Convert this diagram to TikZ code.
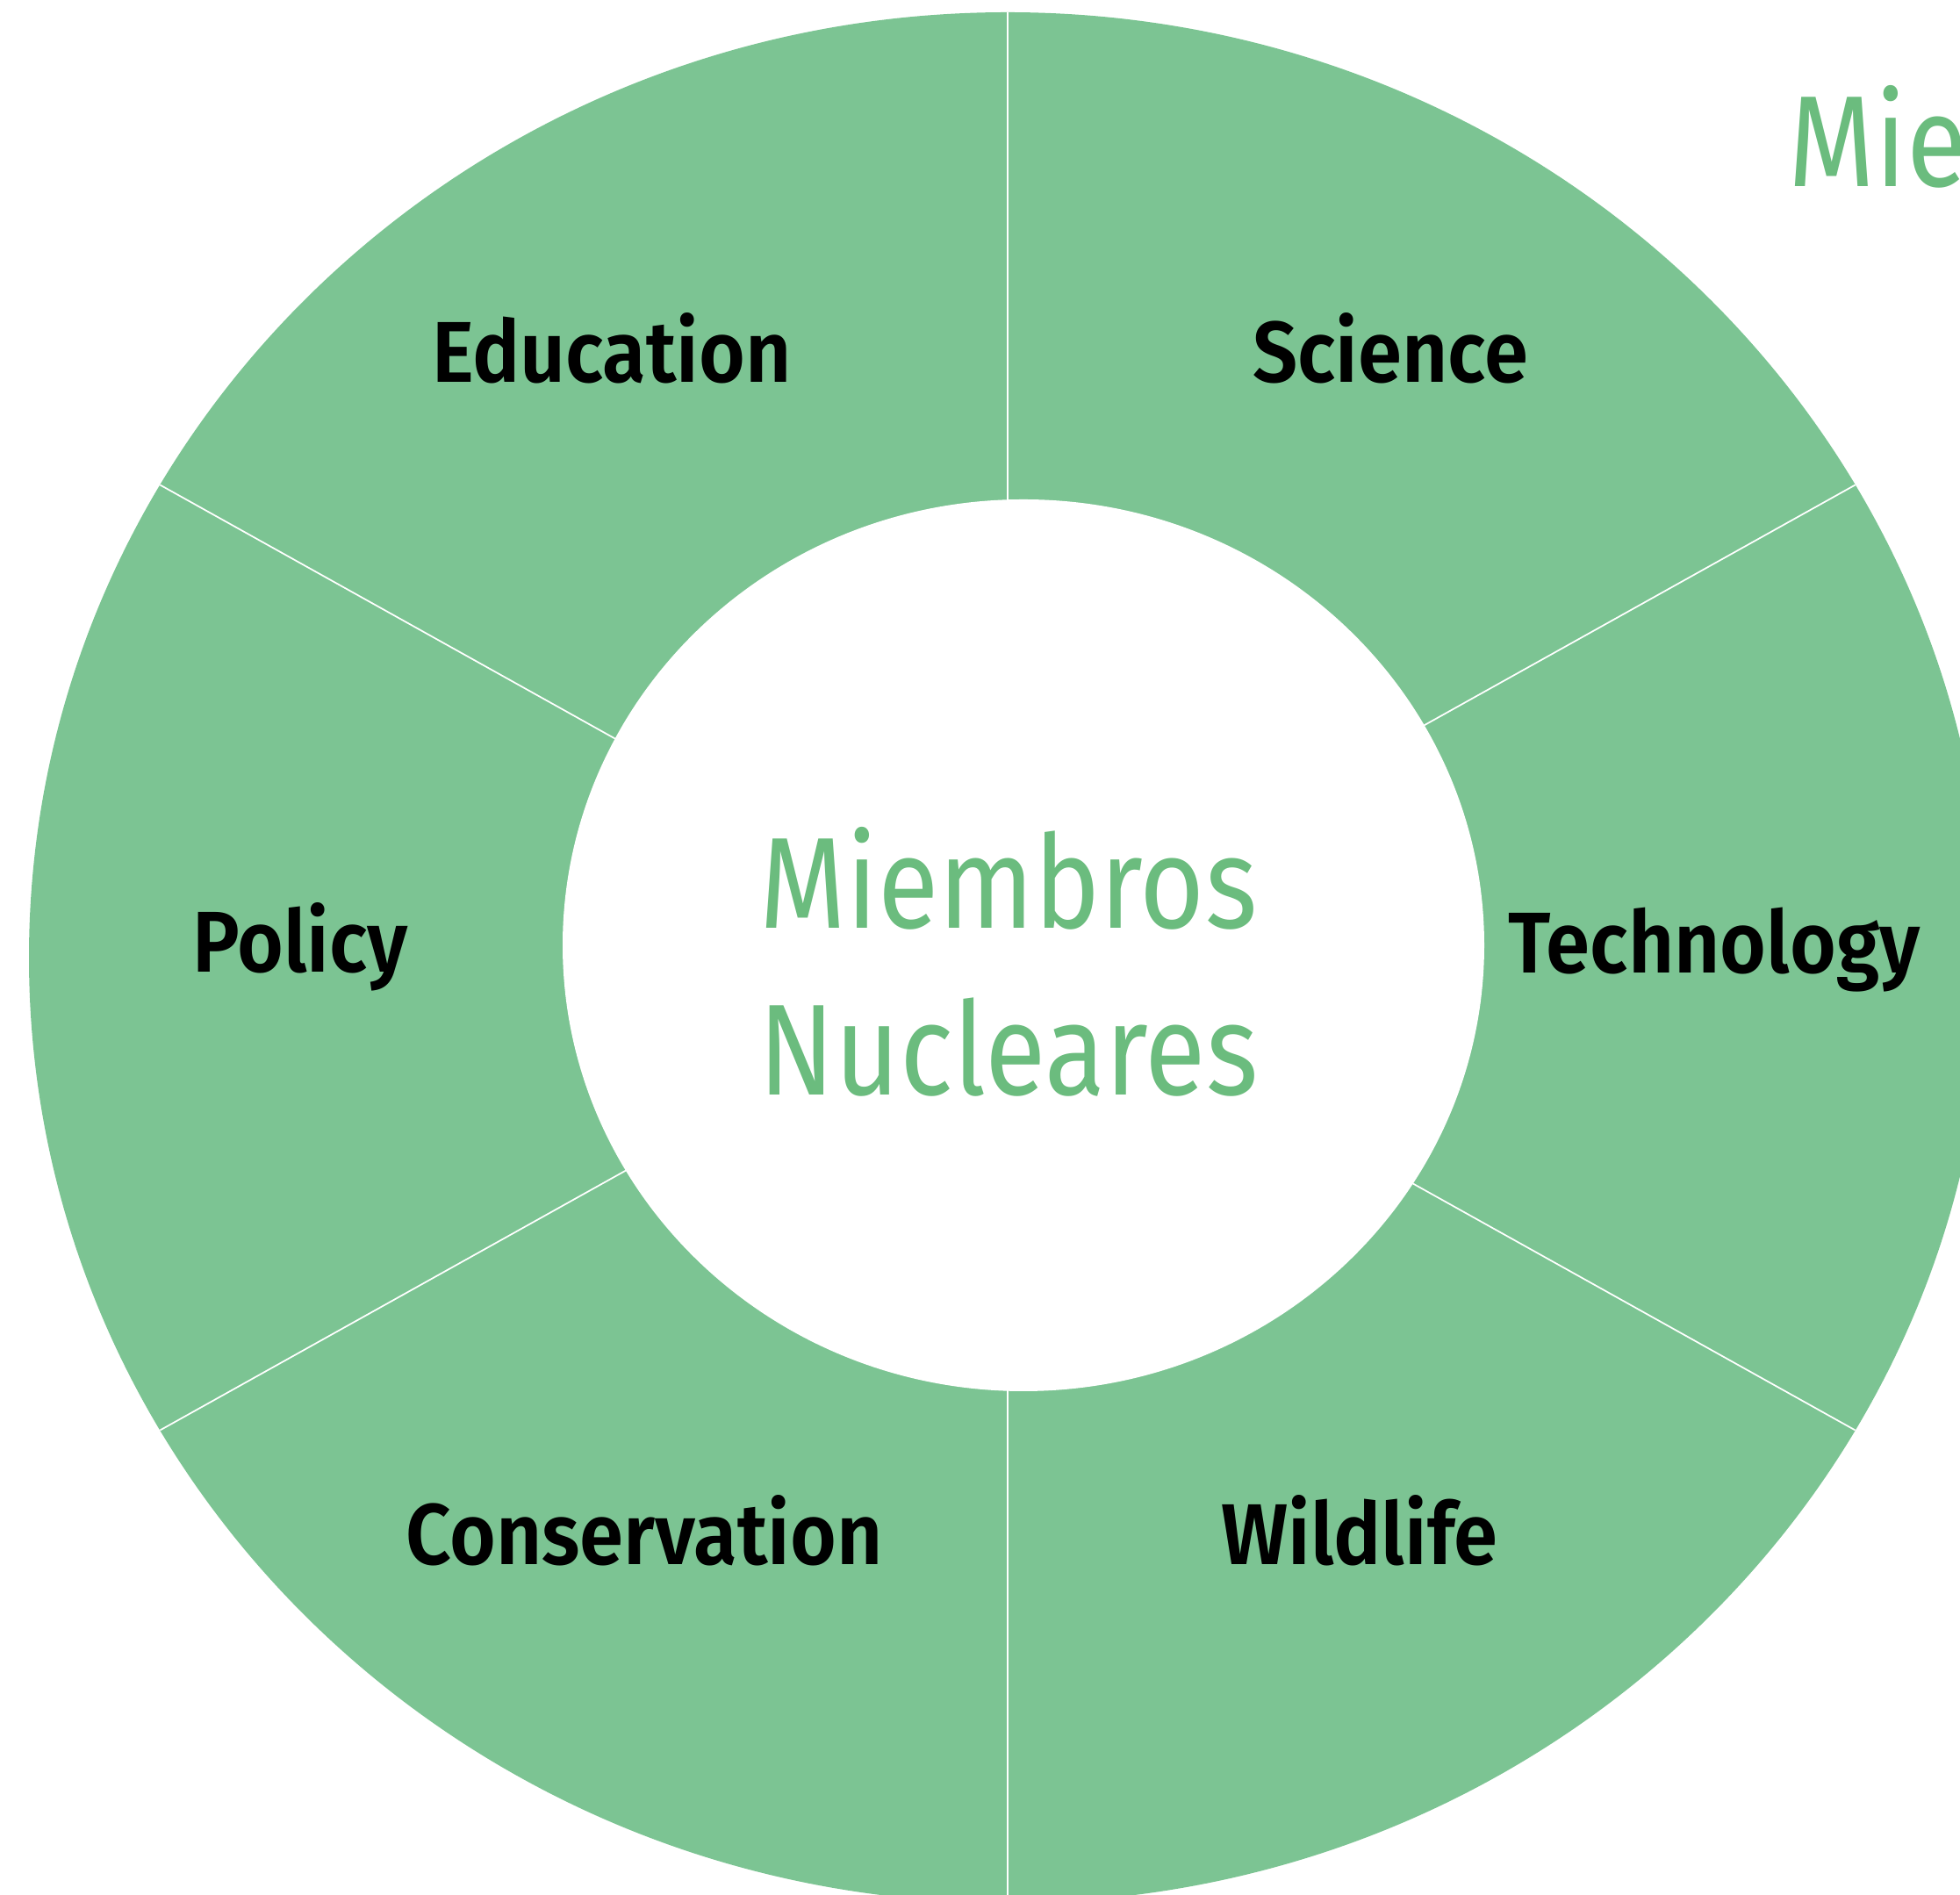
\documentclass[tikz,border=0pt]{standalone}
\usepackage{fontspec}
\setmainfont{Fira Sans}
\newfontfamily\sectorfont{Fira Sans}[UprightFont=* SemiBold, FakeStretch=0.92]
\newfontfamily\corefont{Fira Sans}[FakeStretch=0.86]
\usepackage{tikz}
\usetikzlibrary{calc}
\definecolor{ringgreen}{RGB}{124,196,147}
\definecolor{textgreen}{RGB}{107,188,126}

\begin{document}
\begin{tikzpicture}[
  ring/.style={fill=ringgreen},
  divider/.style={draw=white, line width=0.5pt},
  sector/.style={font=\sectorfont\fontsize{28}{34}\selectfont, text=black},
  core/.style={font=\corefont\fontsize{42}{54}\selectfont, text=textgreen, align=center},
]
  \useasboundingbox (0,0) rectangle (22.33,21.59);

  % Ring
  \coordinate (oc) at (11.48,10.68);
  \coordinate (ic) at (11.66,10.82);
  \fill[ring] (oc) ellipse [x radius=11.15, y radius=10.77];

  % Dividers
  \foreach \a in {90,30,-30,-90,-150,150}{
    \coordinate (o\a) at ([shift={(\a:11.15 and 10.77)}]oc);
    \draw[divider] (o\a) -- (oc);
  }
  \fill[white] (ic) ellipse [x radius=5.25, y radius=5.08];

  % Labels
  \node[sector] (education) at (6.97,17.62) {Education};
  \node[sector] (science) at (15.84,17.62) {Science};
  \node[sector] (policy) at (3.42,10.80) {Policy};
  \node[sector] (technology) at (19.53,10.77) {Technology};
  \node[sector] (conservation) at (7.34,4.15) {Conservation};
  \node[sector] (wildlife) at (15.49,4.15) {Wildlife};

  % Centre
  \node[core] (nucleo) at (11.49,10.63) {Miembros\\Nucleares};
  \node[core, anchor=base west, inner sep=0pt] (otros) at (20.37,19.46) {Mie};
\end{tikzpicture}
\end{document}
